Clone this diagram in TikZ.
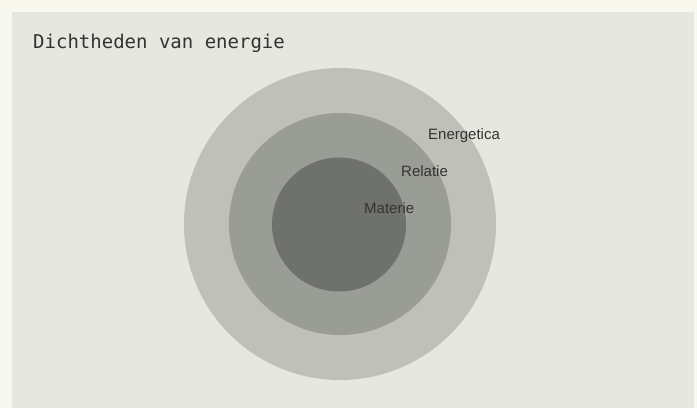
\documentclass[tikz,border=0pt]{standalone}
\usepackage{fontspec}
\setmainfont{Liberation Sans}
\newfontfamily\titlefont{DejaVu Sans Mono}
\definecolor{pagebg}{HTML}{F8F8EE}
\definecolor{panelbg}{HTML}{E6E7DF}
\definecolor{ringA}{HTML}{BFC0B8}
\definecolor{ringB}{HTML}{9A9D95}
\definecolor{ringC}{HTML}{6F716C}
\definecolor{ink}{HTML}{333333}
\begin{document}
\begin{tikzpicture}[x=1pt,y=-1pt,
  lbl/.style={anchor=base west,inner sep=0pt,text=ink,font=\fontsize{15}{17}\selectfont},
  ttl/.style={anchor=base west,inner sep=0pt,text=ink,font=\titlefont\fontsize{19}{21}\selectfont}]
\useasboundingbox (0,0) rectangle (697,408);
\fill[pagebg] (0,0) rectangle (697,408);
\fill[panelbg] (12,12) rectangle (694,408);
\node[ttl] (title) at (33,48) {Dichtheden van energie};
\fill[ringA] (340,224) circle[radius=156];
\fill[ringB] (340,224) circle[radius=111];
\fill[ringC] (339,224.5) circle[radius=67];
\node[lbl] (energetica) at (428,139) {Energetica};
\node[lbl] (relatie) at (401,176) {Relatie};
\node[lbl] (materie) at (364,213) {Materie};
\end{tikzpicture}
\end{document}
